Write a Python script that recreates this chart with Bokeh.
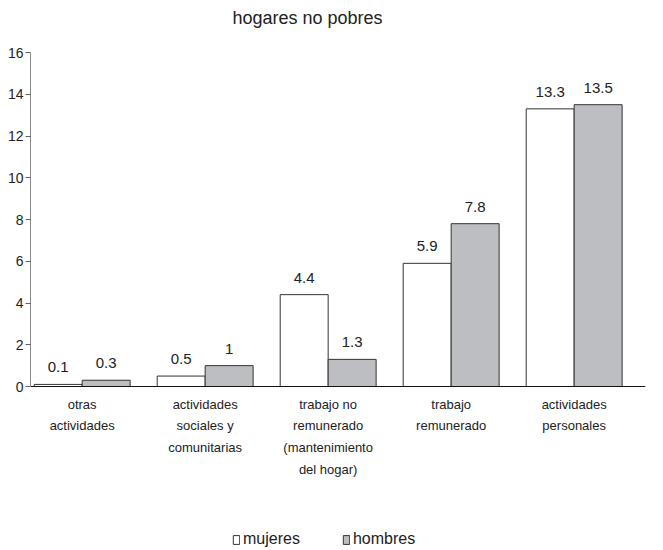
import numpy as np
from bokeh.plotting import figure
from bokeh.models import Range1d, FixedTicker, Label, Legend, LegendItem
from bokeh.core.properties import value
from bokeh.embed import file_html
from bokeh.resources import INLINE

# ---- data ----
categories = [
    "otras actividades",
    "actividades sociales y comunitarias",
    "trabajo no remunerado (mantenimiento del hogar)",
    "trabajo remunerado",
    "actividades personales",
]
tick_labels = [
    "otras\nactividades",
    "actividades\nsociales y\ncomunitarias",
    "trabajo no\nremunerado\n(mantenimiento\ndel hogar)",
    "trabajo\nremunerado",
    "actividades\npersonales",
]
mujeres = [0.1, 0.5, 4.4, 5.9, 13.3]
hombres = [0.3, 1.0, 1.3, 7.8, 13.5]
mujeres_labels = ["0.1", "0.5", "4.4", "5.9", "13.3"]
hombres_labels = ["0.3", "1", "1.3", "7.8", "13.5"]
y_ticks = [0, 2, 4, 6, 8, 10, 12, 14, 16]
title_text = "hogares no pobres"
series_names = ["mujeres", "hombres"]

FONT = "'Liberation Sans', Arial"

centers = np.arange(len(categories)) + 0.5
dodge = 0.195
bw = 0.39

# frame covers the whole canvas height; value axis 0..16 occupies 52..386 px
p = figure(width=663, height=550, output_backend="svg", toolbar_location=None,
           x_range=Range1d(0.08, 5.08), y_range=Range1d(-7.856, 18.491),
           min_border_left=30, min_border_right=18, min_border_top=0,
           min_border_bottom=0)
p.outline_line_color = None
p.grid.grid_line_color = None
p.background_fill_color = "white"

r_m = p.vbar(x=centers - dodge, top=mujeres, width=bw, bottom=0,
             fill_color="white", line_color="#333333", line_width=1)
r_h = p.vbar(x=centers + dodge, top=hombres, width=bw, bottom=0,
             fill_color="#bdbec1", line_color="#333333", line_width=1)

p.text(x=centers - dodge, y=mujeres, text=mujeres_labels, text_align="center",
       text_baseline="bottom", y_offset=-12, text_font=value(FONT),
       text_font_size="15px", text_color="#222222")
p.text(x=centers + dodge, y=hombres, text=hombres_labels, text_align="center",
       text_baseline="bottom", y_offset=-12, text_font=value(FONT),
       text_font_size="15px", text_color="#222222")

# y axis
ya = p.yaxis[0]
ya.ticker = FixedTicker(ticks=y_ticks)
ya.bounds = (min(y_ticks), max(y_ticks))
ya.axis_line_color = "#888888"
ya.major_tick_line_color = "#666666"
ya.major_tick_out = 5
ya.major_tick_in = 0
ya.minor_tick_line_color = None
ya.major_label_standoff = 2
ya.major_label_text_font = FONT
ya.major_label_text_font_size = "14px"
ya.major_label_text_color = "#222222"

# x axis, pinned at value 0
xa = p.xaxis[0]
xa.fixed_location = 0
xa.ticker = FixedTicker(ticks=list(centers))
xa.major_label_overrides = {float(c): lab for c, lab in zip(centers, tick_labels)}
xa.axis_line_color = "#111111"
xa.major_tick_line_color = None
xa.minor_tick_line_color = None
xa.major_label_standoff = 4
xa.major_label_text_font = FONT
xa.major_label_text_font_size = "13px"
xa.major_label_text_line_height = 1.45
xa.major_label_text_color = "#222222"

# title (frame-relative screen position)
p.add_layout(Label(x=277, y=533, x_units="screen", y_units="screen",
                   text=title_text, text_align="center", text_baseline="middle",
                   text_font=FONT, text_font_size="18px", text_color="#222222"))

legend = Legend(items=[LegendItem(label=series_names[0], renderers=[r_m]),
                       LegendItem(label=series_names[1], renderers=[r_h])],
                orientation="horizontal", location=(202, 2),
                glyph_width=8, glyph_height=11, label_standoff=3, spacing=42,
                padding=0, margin=0, border_line_color=None,
                background_fill_alpha=0, label_text_font=FONT,
                label_text_font_size="16px", label_text_color="#222222")
p.add_layout(legend, "center")

open("out.html", "w").write(file_html(p, INLINE))
